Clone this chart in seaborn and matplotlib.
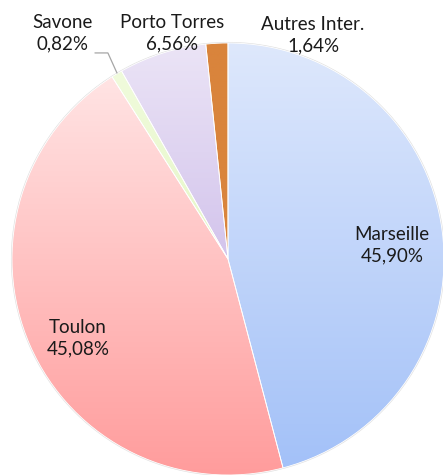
import numpy as np
import seaborn as sns
import matplotlib
matplotlib.use("Agg")
from matplotlib import pyplot as plt
from matplotlib.colors import LinearSegmentedColormap

ports = ["Marseille", "Toulon", "Savone", "Porto Torres", "Autres Inter."]
shares = [45.90, 45.08, 0.82, 6.56, 1.64]
labels = ["45,90%", "45,08%", "0,82%", "6,56%", "1,64%"]

# top / bottom colours of each wedge gradient
tops = ["#dee8fc", "#ffe4e4", "#f0fbdc", "#ebe4f6", "#d9843c"]
bottoms = ["#a3c1f8", "#ff9c9c", "#e6f7c8", "#d3c4ec", "#d9843c"]

sns.set_theme(style="white")
plt.rcParams["font.family"] = ["Lato", "DejaVu Sans"]

fig = plt.figure(figsize=(4.43, 4.75), dpi=100)
ax = fig.add_axes([0, 0, 1, 1])

wedges, _ = ax.pie(shares, startangle=90, counterclock=False, radius=1,
                   wedgeprops=dict(edgecolor="white", linewidth=0.6))

for w, t, b in zip(wedges, tops, bottoms):
    w.set_facecolor("none")
    th1, th2 = np.deg2rad(w.theta1), np.deg2rad(w.theta2)
    ang = np.linspace(th1, th2, 100)
    ys = np.concatenate([[0], np.sin(ang)])
    y0, y1 = ys.min(), ys.max()
    cmap = LinearSegmentedColormap.from_list("g", [b, t])
    grad = np.linspace(0, 1, 256).reshape(-1, 1)
    im = ax.imshow(grad, cmap=cmap, origin="lower", aspect="auto",
                   extent=[-1, 1, y0, y1], zorder=0.5)
    im.set_clip_path(w)

circle = plt.Circle((0, 0), 1.0, fill=False, edgecolor="#e0e0e0", linewidth=1.5, zorder=0.4)
ax.add_patch(circle)

pos = {
    "Marseille": (0.759, 0.065),
    "Toulon": (-0.694, -0.366),
    "Savone": (-0.764, 1.046),
    "Porto Torres": (-0.259, 1.046),
    "Autres Inter.": (0.394, 1.037),
}
for p, lab in zip(ports, labels):
    x, y = pos[p]
    ax.text(x, y, p + "\n" + lab, ha="center", va="center", fontsize=13.5,
            color="#1a1a1a", linespacing=1.3, zorder=3)

ax.plot([-0.616, -0.556, -0.514], [0.954, 0.954, 0.861], color="#a6a6a6", lw=0.9, zorder=3)

ax.set_xlim(-228 / 216, 215 / 216)
ax.set_ylim(-216 / 216, 259 / 216)
ax.set_aspect("auto")
ax.axis("off")

fig.savefig("out.png", dpi=100)
